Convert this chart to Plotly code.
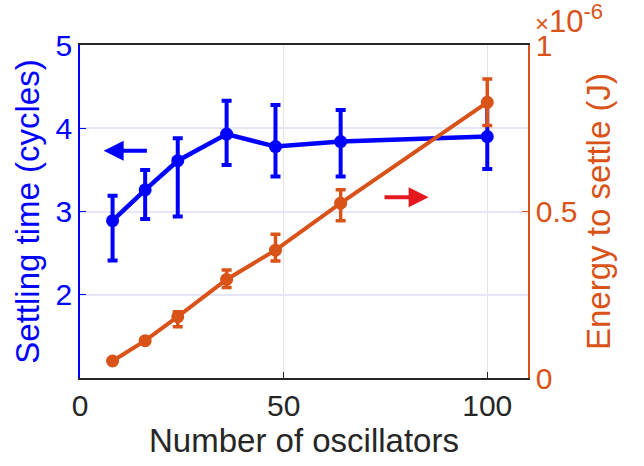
import plotly.graph_objects as go

# Data
n_osc = [8, 16, 24, 36, 48, 64, 100]
settle_time = [2.89, 3.26, 3.61, 3.93, 3.78, 3.84, 3.90]
settle_err_plus = [0.30, 0.24, 0.27, 0.40, 0.50, 0.38, 0.40]
settle_err_minus = [0.48, 0.35, 0.67, 0.37, 0.36, 0.42, 0.39]

energy = [0.051e-6, 0.112e-6, 0.184e-6, 0.296e-6, 0.384e-6, 0.525e-6, 0.828e-6]
energy_err_plus = [0.0, 0.0, 0.015e-6, 0.028e-6, 0.048e-6, 0.040e-6, 0.070e-6]
energy_err_minus = [0.0, 0.0, 0.030e-6, 0.024e-6, 0.033e-6, 0.053e-6, 0.070e-6]

x_ticks = [0, 50, 100]
left_ticks = [2, 3, 4, 5]
right_ticks = [0, 0.5e-6, 1e-6]
right_ticktext = ["0", "0.5", "1"]

BLUE = "#0000FF"
ORANGE = "#D95319"
RED = "#E3191F"
FONT = "Liberation Sans, Arial, sans-serif"
TICK = 30
TITLE = 33

fig = go.Figure()

fig.add_trace(go.Scatter(
    x=n_osc, y=settle_time, mode="lines+markers",
    line=dict(color=BLUE, width=4.5),
    marker=dict(color=BLUE, size=13),
    error_y=dict(type="data", array=settle_err_plus, arrayminus=settle_err_minus,
                 color=BLUE, thickness=4, width=5),
    yaxis="y", showlegend=False,
))

fig.add_trace(go.Scatter(
    x=n_osc, y=energy, mode="lines+markers",
    line=dict(color=ORANGE, width=4),
    marker=dict(color=ORANGE, size=13),
    error_y=dict(type="data", array=energy_err_plus, arrayminus=energy_err_minus,
                 color=ORANGE, thickness=3.5, width=5),
    yaxis="y2", showlegend=False,
))

fig.update_layout(
    width=640, height=462,
    margin=dict(l=80, r=112, t=45, b=84, autoexpand=False),
    paper_bgcolor="white", plot_bgcolor="white",
    font=dict(family=FONT, size=TICK, color="#262626"),
    xaxis=dict(
        range=[0, 110], tickvals=x_ticks, ticks="inside", ticklen=6,
        tickcolor="#262626", showline=True, linecolor="#262626", linewidth=1.5,
        mirror=True, showgrid=True, gridcolor="#E3E3E8", gridwidth=1,
        zeroline=False, automargin=False,
        tickfont=dict(size=TICK, color="#262626"),
        title=dict(text="Number of oscillators", font=dict(size=TITLE, color="#262626"), standoff=4),
    ),
    yaxis=dict(
        range=[1, 5], tickvals=left_ticks, ticks="inside", ticklen=6,
        tickcolor=BLUE, showline=True, linecolor=BLUE, linewidth=1.5,
        showgrid=True, gridcolor="#E6E6FA", gridwidth=1.5, zeroline=False,
        automargin=False,
        tickfont=dict(size=TICK, color=BLUE),
        title=dict(text="Settling time (cycles)", font=dict(size=TITLE, color=BLUE), standoff=6),
    ),
    yaxis2=dict(
        range=[0, 1e-6], tickvals=right_ticks, ticktext=right_ticktext,
        overlaying="y", side="right", ticks="inside", ticklen=6,
        tickcolor=ORANGE, showline=True, linecolor=ORANGE, linewidth=1.5,
        showgrid=False, zeroline=False, automargin=False,
        tickfont=dict(size=TICK, color=ORANGE),
        title=dict(text="Energy to settle (J)", font=dict(size=TITLE, color=ORANGE), standoff=10),
    ),
    annotations=[
        dict(x=5.8, y=3.73, ax=16.8, ay=3.73, xref="x", yref="y", axref="x", ayref="y",
             showarrow=True, arrowhead=2, arrowsize=1, arrowwidth=4, arrowcolor=BLUE, text=""),
        dict(x=85.6, y=3.17, ax=74.4, ay=3.17, xref="x", yref="y", axref="x", ayref="y",
             showarrow=True, arrowhead=2, arrowsize=1, arrowwidth=4, arrowcolor=RED, text=""),
        dict(x=1.0, y=1.0, xref="paper", yref="paper", xanchor="left", yanchor="bottom",
             xshift=5, yshift=4, showarrow=False,
             text=("<span style='font-size:24px'>×</span>"
                   "<span style='font-size:31px'>10</span>"
                   "<sup><span style='font-size:22px'>-6</span></sup>"),
             font=dict(size=31, color=ORANGE)),
    ],
)

fig.write_html("out.html", config={"displayModeBar": False},
               post_script="document.body.style.margin='0';")
